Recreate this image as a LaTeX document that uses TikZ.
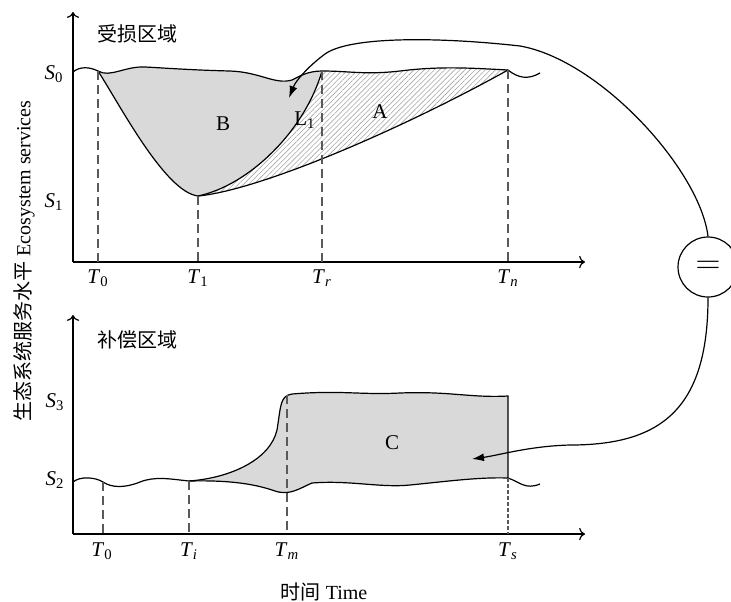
\documentclass[tikz,border=0pt]{standalone}
\usepackage{fontspec}
\setmainfont{Liberation Serif}
\newfontfamily\cjk{Noto Sans CJK SC}
\usetikzlibrary{arrows.meta,patterns.meta}
\newcommand{\varlbl}[2]{\textit{#1}\textsubscript{#2}}

\begin{document}
\begin{tikzpicture}[x=0.5pt,y=-0.5pt,
        curve/.style={line width=0.6pt},
        drop/.style={dash pattern=on 4.5pt off 2.5pt, black!65, line width=0.6pt},
        lbl/.style={font=\fontsize{10.5}{12}\selectfont},
        title/.style={font=\cjk\fontsize{10}{12}\selectfont},
        hatch/.style={pattern={Lines[angle=45,distance=1.8pt,line width=0.3pt]}, pattern color=black!35}]
        \useasboundingbox (0,0) rectangle (731,601);

        % osy - poskozene uzemi
        \coordinate (o1) at (73,262);
        \draw[->, line width=0.6pt] (o1) -- (73,12);
        \draw[->, line width=0.6pt] (o1) -- (585,262);
        % osy - kompenzace
        \coordinate (o2) at (73,534);
        \draw[->, line width=0.6pt] (o2) -- (73,315);
        \draw[->, line width=0.6pt] (o2) -- (585,534);

        % body na krivkach
        \coordinate (a0) at (98,71);
        \coordinate (a1) at (198,196);
        \coordinate (ar) at (322,71);
        \coordinate (an) at (508,70);
        \coordinate (b0) at (103,482);
        \coordinate (bi) at (189,481);
        \coordinate (bm) at (287,395);
        \coordinate (bs) at (508,396);
        \coordinate (bt) at (508,478);

        % plochy
        \fill[black!15] (a0) .. controls (110,78) and (125,66) .. (145,67)
        .. controls (165,68) and (190,70) .. (230,71)
        .. controls (260,72) and (275,85) .. (292,80)
        .. controls (300,76) and (308,71) .. (ar)
        .. controls (305,130) and (250,185) .. (a1)
        .. controls (165,192) and (120,105) .. (a0);
        \fill[hatch] (ar) .. controls (350,71) and (365,75) .. (400,71)
        .. controls (440,66) and (470,68) .. (an)
        .. controls (400,130) and (260,190) .. (a1)
        .. controls (250,185) and (305,130) .. (ar);
        \fill[black!15] (bi) .. controls (230,478) and (270,460) .. (277,430)
        .. controls (281,405) and (280,396) .. (292,394)
        .. controls (340,390) and (360,395) .. (400,393)
        .. controls (450,391) and (470,398) .. (bs)
        -- (bt)
        .. controls (480,477) and (450,481) .. (410,485)
        .. controls (380,488) and (350,480) .. (312,483)
        .. controls (300,488) and (290,496) .. (275,491)
        .. controls (255,484) and (230,480) .. (bi);

        % krivky nahore
        \draw[curve] (73,72) .. controls (80,66) and (90,67) .. (a0)
        .. controls (110,78) and (125,66) .. (145,67)
        .. controls (165,68) and (190,70) .. (230,71)
        .. controls (260,72) and (275,85) .. (292,80)
        .. controls (300,76) and (308,71) .. (ar)
        .. controls (350,71) and (365,75) .. (400,71)
        .. controls (440,66) and (470,68) .. (an)
        .. controls (518,78) and (528,80) .. (540,73);
        \draw[curve] (a0) .. controls (120,105) and (165,192) .. (a1);
        \draw[curve] (a1) .. controls (250,185) and (305,130) .. (ar);
        \draw[curve] (a1) .. controls (260,190) and (400,130) .. (an);

        % krivky dole
        \draw[curve] (73,482) .. controls (80,476) and (95,477) .. (b0)
        .. controls (112,488) and (125,488) .. (140,482)
        .. controls (155,476) and (170,479) .. (bi)
        .. controls (230,480) and (255,484) .. (275,491)
        .. controls (290,496) and (300,488) .. (312,483)
        .. controls (350,480) and (380,488) .. (410,485)
        .. controls (450,481) and (480,477) .. (bt)
        .. controls (520,482) and (525,490) .. (540,484);
        \draw[curve] (bi) .. controls (230,478) and (270,460) .. (277,430)
        .. controls (281,405) and (280,396) .. (292,394)
        .. controls (340,390) and (360,395) .. (400,393)
        .. controls (450,391) and (470,398) .. (bs) -- (bt);

        % svisle carkovane cary
        \draw[drop] (a0) -- (98,262);
        \draw[drop] (a1) -- (198,262);
        \draw[drop] (ar) -- (322,262);
        \draw[drop] (an) -- (508,262);
        \draw[drop] (b0) -- (103,534);
        \draw[drop] (bi) -- (189,534);
        \draw[drop] (bm) -- (287,534);
        \draw[drop, dash pattern=on 2pt off 1pt] (bt) -- (508,534);

        % popisky os
        \node[lbl] (s0) at (54,74) {\varlbl{S}{0}};
        \node[lbl] (s1) at (54,202) {\varlbl{S}{1}};
        \node[lbl] (s3) at (55,402) {\varlbl{S}{3}};
        \node[lbl] (s2) at (55,480) {\varlbl{S}{2}};
        \node[lbl] (t0a) at (98,278) {\varlbl{T}{0}};
        \node[lbl] (t1) at (198,278) {\varlbl{T}{1}};
        \node[lbl] (tr) at (322,278) {\varlbl{T}{\textit{r}}};
        \node[lbl] (tn) at (508,278) {\varlbl{T}{\textit{n}}};
        \node[lbl] (t0b) at (102,551) {\varlbl{T}{0}};
        \node[lbl] (ti) at (189,551) {\varlbl{T}{\textit{i}}};
        \node[lbl] (tm) at (287,551) {\varlbl{T}{\textit{m}}};
        \node[lbl] (ts) at (508,551) {\varlbl{T}{\textit{s}}};

        % oblasti
        \node[lbl] (regB) at (223,124) {B};
        \node[lbl] (regL) at (305,120) {L\textsubscript{1}};
        \node[lbl] (regA) at (380,112) {A};
        \node[lbl] (regC) at (392,443) {C};

        \node[title] (damaged) at (137,34) {受损区域};
        \node[title] (offset) at (137,340) {补偿区域};
        \node[rotate=90, font=\fontsize{10}{12}\selectfont] (ylab) at (24,261) {{\cjk 生态系统服务水平} Ecosystem services};
        \node[font=\fontsize{10}{12}\selectfont] (xlab) at (324,592) {{\cjk 时间} Time};

        % rovnost A = C
        \node[draw, circle, line width=0.6pt, minimum size=30pt, inner sep=0pt, font=\fontsize{16}{16}\selectfont] (eq) at (708,267) {$=$};
        \coordinate (tipB) at (289,98);
        \coordinate (tipC) at (472,459);
        \draw[curve, -{Latex[length=6pt,width=4pt]}] (eq.north) .. controls (700,170) and (600,60) .. (520,46)
        .. controls (440,37) and (350,36) .. (325,54)
        .. controls (310,65) and (296,80) .. (tipB);
        \draw[curve, -{Latex[length=6pt,width=4pt]}] (eq.south) .. controls (708,410) and (660,445) .. (570,445)
        .. controls (530,446) and (500,455) .. (tipC);
    \end{tikzpicture}
\end{document}
